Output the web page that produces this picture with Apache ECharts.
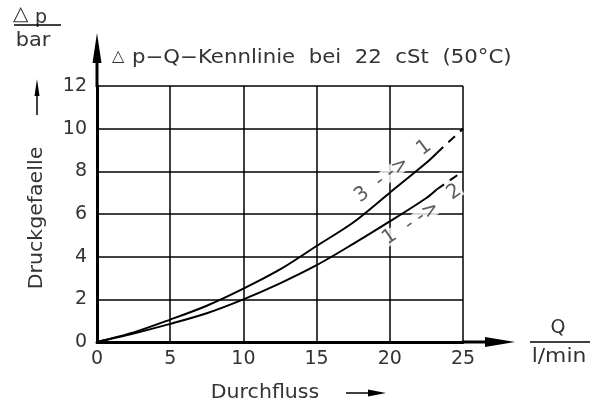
<!DOCTYPE html>
<html><head><meta charset="utf-8">
<script src="https://cdn.jsdelivr.net/npm/echarts@6/dist/echarts.min.js"></script>
<style>html,body{margin:0;padding:0;background:#fff}#c{width:598px;height:403px}</style>
</head><body><div id="c"></div>
<script>
// Curve 3 -> 1 (upper)
const upperQ  = [0, 2.5, 5, 7.5, 10, 12.5, 15, 17.5, 20, 22.5, 23.2];
const upperDp = [0, 0.45, 1.05, 1.7, 2.5, 3.4, 4.5, 5.6, 7.0, 8.4, 8.85];
const upperDashQ  = [23.2, 25];
const upperDashDp = [8.85, 10];
// Curve 1 -> 2 (lower)
const lowerQ  = [0, 2.5, 5, 7.5, 10, 12.5, 15, 17.5, 20, 22.5, 23.2];
const lowerDp = [0, 0.4, 0.85, 1.35, 2.0, 2.75, 3.6, 4.6, 5.65, 6.75, 7.15];
const lowerDashQ  = [23.2, 25];
const lowerDashDp = [7.15, 8];
// curve annotations (text pieces placed at data coordinates)
const annoText = ['3', '- ->', '1', '1', '- ->', '2'];
const annoQ    = [18.1, 20.15, 22.35, 20.0, 22.2, 24.4];
const annoDp   = [6.9, 7.97, 9.1, 4.92, 5.9, 7.03];
const annoRot  = [37, 37, 37, 35, 35, 35];

const titleMark = '\u25B3';
const titleText = 'p\u2212Q\u2212Kennlinie  bei  22  cSt  (50\u00B0C)';
const xName = 'Durchfluss';
const yName = 'Druckgefaelle';
const xUnitTop = 'Q', xUnitBottom = 'l/min';
const yUnitTop = 'p', yUnitBottom = 'bar';

const zip = (a, b) => a.map((v, i) => [v, b[i]]);
const FONT = 'DejaVu Sans';
const TXT = '#333';
const f = (s) => s + 'px "DejaVu Sans"';

const chart = echarts.init(document.getElementById('c'));
chart.setOption({
  animation: false,
  backgroundColor: '#fff',
  textStyle: { fontFamily: FONT },
  grid: { left: 97, right: 135, top: 86, bottom: 61, containLabel: false, outerBoundsMode: 'none' },
  xAxis: {
    type: 'value', min: 0, max: 25, interval: 5,
    axisLine: { lineStyle: { color: '#000', width: 3 } },
    axisTick: { show: false },
    splitLine: { lineStyle: { color: '#000', width: 1.5 } },
    axisLabel: { fontSize: 19, color: TXT, margin: 8, fontFamily: FONT }
  },
  yAxis: {
    type: 'value', min: 0, max: 12, interval: 2,
    axisLine: { show: true, lineStyle: { color: '#000', width: 3 } },
    axisTick: { show: false },
    splitLine: { lineStyle: { color: '#000', width: 1.5 } },
    axisLabel: { fontSize: 19, color: TXT, margin: 10, fontFamily: FONT }
  },
  series: [
    { type: 'line', data: zip(upperQ, upperDp), smooth: 0.3, showSymbol: false, lineStyle: { color: '#000', width: 2 }, z: 3 },
    { type: 'line', data: zip(upperDashQ, upperDashDp), showSymbol: false, lineStyle: { color: '#000', width: 2, type: [9, 7] }, z: 3 },
    { type: 'line', data: zip(lowerQ, lowerDp), smooth: 0.3, showSymbol: false, lineStyle: { color: '#000', width: 2 }, z: 3 },
    { type: 'line', data: zip(lowerDashQ, lowerDashDp), showSymbol: false, lineStyle: { color: '#000', width: 2, type: [9, 7] }, z: 3 },
    { type: 'scatter', symbolSize: 1, itemStyle: { color: 'transparent' }, z: 2,
      data: annoText.map((t, i) => ({ value: [annoQ[i], annoDp[i]],
        label: { show: true, position: 'inside', formatter: t, rotate: annoRot[i], fontSize: 20, color: TXT, fontFamily: FONT,
                 backgroundColor: '#fff', padding: [0, 1], lineHeight: 15 } })) }
  ],
  graphic: [
    // title
    { type: 'text', x: 112, y: 65, style: { text: titleMark, font: f(16), fill: TXT, textAlign: 'left', textVerticalAlign: 'bottom' } },
    { type: 'text', x: 132, y: 58, scaleX: 1.12, style: { text: titleText, font: f(19), fill: TXT, textAlign: 'left', textVerticalAlign: 'middle' } },
    // y axis extension + arrow
    { type: 'line', shape: { x1: 97, y1: 87, x2: 97, y2: 55 }, style: { stroke: '#000', lineWidth: 3 } },
    { type: 'polygon', shape: { points: [[97, 33], [92.5, 63], [101.5, 63]] }, style: { fill: '#000' } },
    // x axis extension + arrow
    { type: 'line', shape: { x1: 462, y1: 342, x2: 495, y2: 342 }, style: { stroke: '#000', lineWidth: 3 } },
    { type: 'polygon', shape: { points: [[515, 342], [485, 337], [485, 347]] }, style: { fill: '#000' } },
    // Δp / bar
    { type: 'text', x: 13, y: 25, style: { text: titleMark, font: f(20), fill: TXT, textAlign: 'left', textVerticalAlign: 'bottom' } },
    { type: 'text', x: 41, y: 18, style: { text: yUnitTop, font: f(19), fill: TXT, textAlign: 'center', textVerticalAlign: 'middle' } },
    { type: 'line', shape: { x1: 14, y1: 25, x2: 61, y2: 25 }, style: { stroke: '#000', lineWidth: 1.5 } },
    { type: 'text', x: 33, y: 41, scaleX: 1.1, style: { text: yUnitBottom, font: f(19), fill: TXT, textAlign: 'center', textVerticalAlign: 'middle' } },
    // y name + small arrow
    { type: 'line', shape: { x1: 37, y1: 115, x2: 37, y2: 90 }, style: { stroke: '#000', lineWidth: 1.5 } },
    { type: 'polygon', shape: { points: [[37, 79], [34.5, 96], [39.5, 96]] }, style: { fill: '#000' } },
    { type: 'text', x: 37, y: 218, rotation: Math.PI / 2, scaleX: 1.08, style: { text: yName, font: f(19), fill: TXT, textAlign: 'center', textVerticalAlign: 'middle' } },
    // x name + arrow
    { type: 'text', x: 265, y: 393, scaleX: 1.08, style: { text: xName, font: f(19), fill: TXT, textAlign: 'center', textVerticalAlign: 'middle' } },
    { type: 'line', shape: { x1: 346, y1: 393, x2: 372, y2: 393 }, style: { stroke: '#000', lineWidth: 1.5 } },
    { type: 'polygon', shape: { points: [[386, 393], [368, 389.5], [368, 396.5]] }, style: { fill: '#000' } },
    // Q / l/min
    { type: 'text', x: 558, y: 328, style: { text: xUnitTop, font: f(19), fill: TXT, textAlign: 'center', textVerticalAlign: 'middle' } },
    { type: 'line', shape: { x1: 530, y1: 342, x2: 590, y2: 342 }, style: { stroke: '#000', lineWidth: 1.5 } },
    { type: 'text', x: 559, y: 357, scaleX: 1.15, style: { text: xUnitBottom, font: f(19), fill: TXT, textAlign: 'center', textVerticalAlign: 'middle' } }
  ]
});
</script></body></html>
